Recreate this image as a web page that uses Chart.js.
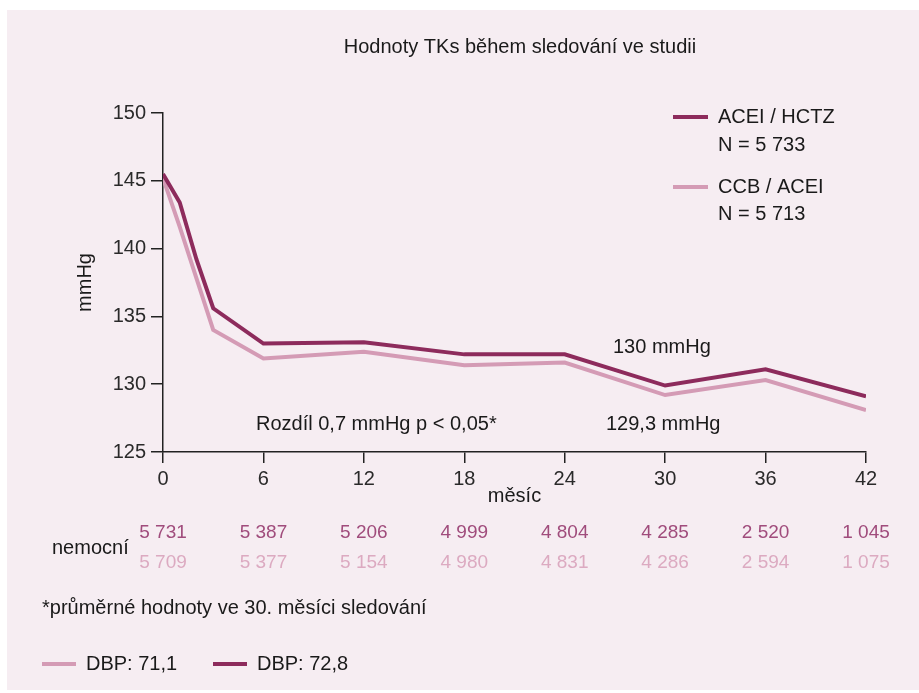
<!DOCTYPE html>
<html>
<head>
<meta charset="utf-8">
<script src="https://cdn.jsdelivr.net/npm/chart.js@4"></script>
<style>
  html, body { margin: 0; padding: 0; background: #fff; }
  #wrap { width: 919px; height: 693px; }
</style>
</head>
<body>
<div id="wrap"><canvas id="chart" width="919" height="693"></canvas></div>
<script>
// data
const months = [0, 1, 2, 3, 6, 12, 18, 24, 30, 36, 42];
const aceiHctz = [145.5, 143.4, 139.2, 135.6, 133.0, 133.1, 132.2, 132.2, 129.9, 131.1, 129.1];
const ccbAcei = [145.2, 141.6, 137.8, 134.0, 131.9, 132.4, 131.4, 131.6, 129.2, 130.3, 128.1];
const tickMonths = [0, 6, 12, 18, 24, 30, 36, 42];
const patientsAcei = [5731, 5387, 5206, 4999, 4804, 4285, 2520, 1045];
const patientsCcb = [5709, 5377, 5154, 4980, 4831, 4286, 2594, 1075];

const DARK = '#8d2b5c';
const LIGHT = '#d49bb5';
const DARK_TXT = '#a04c7c';
const LIGHT_TXT = '#dcaac1';
const BG = '#f6edf2';
const INK = '#1a1a1a';
const FONT = "'Liberation Sans', Arial, sans-serif";

Chart.defaults.font.family = FONT;
Chart.defaults.font.size = 20;
Chart.defaults.color = INK;

function fmt(n) {
    return String(n).replace(/\B(?=(\d{3})+(?!\d))/g, ' ');
}

const extras = {
    id: 'extras',
    beforeDraw(chart) {
        const ctx = chart.ctx;
        ctx.save();
        ctx.fillStyle = BG;
        ctx.fillRect(7, 10, chart.width - 7, 680);
        ctx.restore();
    },
    afterDraw(chart) {
        const ctx = chart.ctx;
        const xs = chart.scales.x;
        ctx.save();
        ctx.font = '20px ' + FONT;
        ctx.fillStyle = INK;
        ctx.textBaseline = 'middle';

        // title
        ctx.textAlign = 'center';
        ctx.fillText('Hodnoty TKs během sledování ve studii', 520, 47);

        // legend in plot
        ctx.textAlign = 'left';
        ctx.lineWidth = 4;
        ctx.strokeStyle = DARK;
        ctx.beginPath(); ctx.moveTo(673, 117); ctx.lineTo(708, 117); ctx.stroke();
        ctx.strokeStyle = LIGHT;
        ctx.beginPath(); ctx.moveTo(673, 187); ctx.lineTo(708, 187); ctx.stroke();
        ctx.fillText('ACEI / HCTZ', 718, 117);
        ctx.fillText('N = 5 733', 718, 145);
        ctx.fillText('CCB / ACEI', 718, 187);
        ctx.fillText('N = 5 713', 718, 214);

        // annotations
        ctx.fillText('130 mmHg', 613, 347);
        ctx.fillText('129,3 mmHg', 606, 424);
        ctx.fillText('Rozdíl 0,7 mmHg p < 0,05*', 256, 424);

        // patients table
        ctx.fillText('nemocní', 52, 548);
        ctx.font = '19px ' + FONT;
        ctx.textAlign = 'center';
        tickMonths.forEach((m, i) => {
            const px = xs.getPixelForValue(m);
            ctx.fillStyle = DARK_TXT;
            ctx.fillText(fmt(patientsAcei[i]), px, 533);
            ctx.fillStyle = LIGHT_TXT;
            ctx.fillText(fmt(patientsCcb[i]), px, 563);
        });

        // footnote + DBP legend
        ctx.font = '20px ' + FONT;
        ctx.textAlign = 'left';
        ctx.fillStyle = INK;
        ctx.fillText('*průměrné hodnoty ve 30. měsíci sledování', 42, 608);
        ctx.strokeStyle = LIGHT;
        ctx.beginPath(); ctx.moveTo(42, 664); ctx.lineTo(76, 664); ctx.stroke();
        ctx.fillText('DBP: 71,1', 86, 664);
        ctx.strokeStyle = DARK;
        ctx.beginPath(); ctx.moveTo(213, 664); ctx.lineTo(247, 664); ctx.stroke();
        ctx.fillText('DBP: 72,8', 257, 664);
        ctx.restore();
    }
};

new Chart(document.getElementById('chart'), {
    type: 'line',
    data: {
        datasets: [{
            label: 'ACEI / HCTZ',
            data: months.map((m, i) => ({ x: m, y: aceiHctz[i] })),
            borderColor: DARK,
            borderWidth: 4,
            pointRadius: 0,
            tension: 0
        }, {
            label: 'CCB / ACEI',
            data: months.map((m, i) => ({ x: m, y: ccbAcei[i] })),
            borderColor: LIGHT,
            borderWidth: 4,
            pointRadius: 0,
            tension: 0
        }]
    },
    options: {
        responsive: false,
        animation: false,
        layout: { padding: { left: 60, right: 53, top: 113, bottom: 181 } },
        plugins: {
            legend: { display: false },
            tooltip: { enabled: false }
        },
        scales: {
            x: {
                type: 'linear',
                min: 0,
                max: 42,
                afterBuildTicks: (scale) => { scale.ticks = tickMonths.map(v => ({ value: v })); },
                afterFit: (scale) => { scale.height = 60; },
                ticks: { padding: 4, color: '#2a2a2a' },
                grid: { drawOnChartArea: false, tickLength: 11, color: '#222', lineWidth: 1.5 },
                border: { color: '#222', width: 1.5 },
                title: { display: true, text: 'měsíc', color: INK, padding: { top: 0, bottom: 4 } }
            },
            y: {
                min: 125,
                max: 150,
                afterFit: (scale) => { scale.width = 103; },
                ticks: { stepSize: 5, padding: 5, color: '#2a2a2a' },
                grid: { drawOnChartArea: false, tickLength: 12, color: '#222', lineWidth: 1.5 },
                border: { color: '#222', width: 1.5 },
                title: { display: true, text: 'mmHg', color: INK, padding: { top: 13, bottom: 0 } }
            }
        }
    },
    plugins: [extras]
});
</script>
</body>
</html>
